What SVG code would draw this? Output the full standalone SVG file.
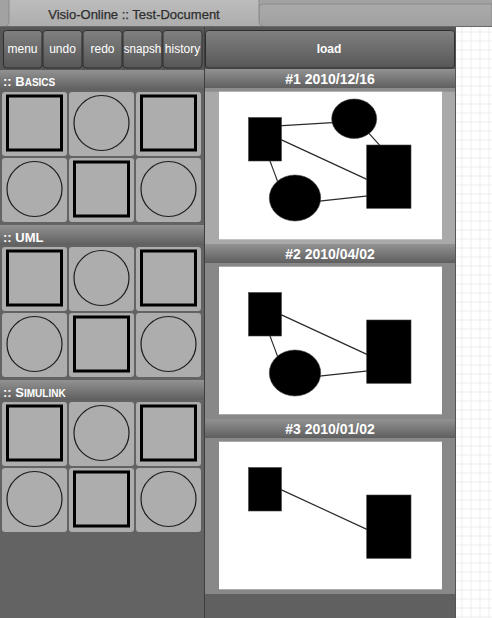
<svg xmlns="http://www.w3.org/2000/svg" width="492" height="618" viewBox="0 0 492 618">
<defs>
<style>
text{font-family:"Liberation Sans",Arial,sans-serif;}
.btn{fill:url(#btnG);stroke:#2e2e2e;stroke-width:1;}
.btxt{fill:#fff;font-size:12px;text-anchor:middle;}
.hdr{fill:url(#hdrG);}
.htxt{fill:#fff;font-size:13px;font-weight:bold;}
.stxt{fill:#fff;font-size:14px;font-weight:bold;text-anchor:middle;}
.tile{fill:#adadad;}
.sq{fill:none;stroke:#000;stroke-width:3;}
.ci{fill:none;stroke:#1e1e1e;stroke-width:1.2;}
.shape{fill:#000;stroke:#444;stroke-width:0.6;}
.conn{stroke:#2a2a2a;stroke-width:1.2;fill:none;}
.white{fill:#fff;}
</style>
<linearGradient id="btnG" x1="0" y1="0" x2="0" y2="1">
<stop offset="0" stop-color="#808080"/><stop offset="1" stop-color="#575757"/>
</linearGradient>
<linearGradient id="hdrG" x1="0" y1="0" x2="0" y2="1">
<stop offset="0" stop-color="#929292"/><stop offset="1" stop-color="#5f5f5f"/>
</linearGradient>
<linearGradient id="tabA" x1="0" y1="0" x2="0" y2="1">
<stop offset="0" stop-color="#bcbcbc"/><stop offset="1" stop-color="#adadad"/>
</linearGradient>
<linearGradient id="tabB" x1="0" y1="0" x2="0" y2="1">
<stop offset="0" stop-color="#aaaaaa"/><stop offset="1" stop-color="#a0a0a0"/>
</linearGradient>
<pattern id="grid" x="461.5" y="4.5" width="9" height="9" patternUnits="userSpaceOnUse">
<path d="M0 0.5H9M0.5 0V9" stroke="#ececec" stroke-width="1" fill="none"/>
</pattern>
</defs>

<!-- tab bar -->
<g id="tabbar">
<rect x="0" y="0" width="492" height="27" fill="#a2a2a2"/>
<path d="M259 27V9Q259 4 264 4H492V27Z" fill="url(#tabB)" stroke="#8a8a8a" stroke-width="1"/>
<path d="M3 27Q9 27 9 21V0H259V21Q259 27 265 27Z" fill="url(#tabA)"/>
<path d="M3 26.5Q9 26.5 9 21V0M259 0V21Q259 26.5 265 26.5" fill="none" stroke="#8a8a8a" stroke-width="1"/>
<text x="134" y="18.5" font-size="13" fill="#2e2e2e" text-anchor="middle" stroke="#2e2e2e" stroke-width="0.25">Visio-Online :: Test-Document</text>
<line x1="0" y1="26.5" x2="492" y2="26.5" stroke="#6a6a6a"/>
</g>

<!-- backgrounds -->
<rect x="0" y="27" width="456" height="43" fill="#575757"/>
<rect x="0" y="70" width="204" height="548" fill="#636363"/>
<rect x="456" y="27" width="36" height="591" fill="#fff"/>
<rect x="456" y="27" width="36" height="591" fill="url(#grid)"/>

<!-- toolbar buttons -->
<g id="btn-menu"><rect class="btn" x="3.5" y="30.5" width="38.5" height="37.5" rx="3"/><text class="btxt" x="22.5" y="53">menu</text></g>
<g id="btn-undo"><rect class="btn" x="43" y="30.5" width="39" height="37.5" rx="3"/><text class="btxt" x="62.5" y="53">undo</text></g>
<g id="btn-redo"><rect class="btn" x="83" y="30.5" width="39" height="37.5" rx="3"/><text class="btxt" x="102.5" y="53">redo</text></g>
<g id="btn-snapsh"><rect class="btn" x="123" y="30.5" width="39" height="37.5" rx="3"/><text class="btxt" x="142.5" y="53" textLength="37.5" lengthAdjust="spacingAndGlyphs">snapsh</text></g>
<g id="btn-history"><rect class="btn" x="163" y="30.5" width="39" height="37.5" rx="3"/><text class="btxt" x="182.5" y="53">history</text></g>
<g id="btn-load"><rect class="btn" x="205.5" y="30.5" width="249" height="37.5" rx="3"/><text class="btxt" x="329" y="52.5" font-size="11.5" font-weight="bold">load</text></g>

<!-- left palette -->
<g id="hdr-basics"><rect class="hdr" x="0" y="70" width="204" height="20"/><text class="htxt" x="3" y="86">:: B<tspan font-size="10">ASICS</tspan></text></g>
<g id="basics-1"><rect class="tile" x="2" y="92" width="65" height="64" rx="3"/><rect class="sq" x="7.5" y="96" width="54" height="54"/></g>
<g id="basics-2"><rect class="tile" x="69" y="92" width="65" height="64" rx="3"/><circle class="ci" cx="101.5" cy="123" r="27.5"/></g>
<g id="basics-3"><rect class="tile" x="136" y="92" width="65" height="64" rx="3"/><rect class="sq" x="141.5" y="96" width="54" height="54"/></g>
<g id="basics-4"><rect class="tile" x="2" y="158" width="65" height="64" rx="3"/><circle class="ci" cx="34.5" cy="189" r="27.5"/></g>
<g id="basics-5"><rect class="tile" x="69" y="158" width="65" height="64" rx="3"/><rect class="sq" x="74.5" y="162" width="54" height="54"/></g>
<g id="basics-6"><rect class="tile" x="136" y="158" width="65" height="64" rx="3"/><circle class="ci" cx="168.5" cy="189" r="27.5"/></g>

<g id="hdr-uml"><rect class="hdr" x="0" y="225" width="204" height="20"/><text class="htxt" x="3" y="241.5">:: UML</text></g>
<g id="uml-1"><rect class="tile" x="2" y="247" width="65" height="64" rx="3"/><rect class="sq" x="7.5" y="251" width="54" height="54"/></g>
<g id="uml-2"><rect class="tile" x="69" y="247" width="65" height="64" rx="3"/><circle class="ci" cx="101.5" cy="278" r="27.5"/></g>
<g id="uml-3"><rect class="tile" x="136" y="247" width="65" height="64" rx="3"/><rect class="sq" x="141.5" y="251" width="54" height="54"/></g>
<g id="uml-4"><rect class="tile" x="2" y="313" width="65" height="64" rx="3"/><circle class="ci" cx="34.5" cy="344" r="27.5"/></g>
<g id="uml-5"><rect class="tile" x="69" y="313" width="65" height="64" rx="3"/><rect class="sq" x="74.5" y="317" width="54" height="54"/></g>
<g id="uml-6"><rect class="tile" x="136" y="313" width="65" height="64" rx="3"/><circle class="ci" cx="168.5" cy="344" r="27.5"/></g>

<g id="hdr-simulink"><rect class="hdr" x="0" y="380" width="204" height="20"/><text class="htxt" x="3" y="396.5">:: S<tspan font-size="10">IMULINK</tspan></text></g>
<g id="sim-1"><rect class="tile" x="2" y="402" width="65" height="64" rx="3"/><rect class="sq" x="7.5" y="406" width="54" height="54"/></g>
<g id="sim-2"><rect class="tile" x="69" y="402" width="65" height="64" rx="3"/><circle class="ci" cx="101.5" cy="433" r="27.5"/></g>
<g id="sim-3"><rect class="tile" x="136" y="402" width="65" height="64" rx="3"/><rect class="sq" x="141.5" y="406" width="54" height="54"/></g>
<g id="sim-4"><rect class="tile" x="2" y="468" width="65" height="64" rx="3"/><circle class="ci" cx="34.5" cy="499" r="27.5"/></g>
<g id="sim-5"><rect class="tile" x="69" y="468" width="65" height="64" rx="3"/><rect class="sq" x="74.5" y="472" width="54" height="54"/></g>
<g id="sim-6"><rect class="tile" x="136" y="468" width="65" height="64" rx="3"/><circle class="ci" cx="168.5" cy="499" r="27.5"/></g>

<!-- history panel -->
<rect x="205" y="69" width="250" height="525" fill="#888"/>
<rect x="205" y="594" width="250" height="24" fill="#606060"/>

<g id="snap-1">
<rect x="205" y="88" width="250" height="156" fill="#a9a9a9"/>
<rect x="205" y="88" width="250" height="3.7" fill="#8e8e8e"/>
<rect class="hdr" x="205" y="69" width="250" height="19"/>
<text class="stxt" x="330" y="83.5">#1 2010/12/16</text>
<rect class="white" x="219" y="91.7" width="223" height="147.6"/>
</g>
<g id="snap-1-connectors">
<line class="conn" x1="270" y1="126.4" x2="345" y2="121.9"/>
<line class="conn" x1="275" y1="136.9" x2="375" y2="183.1"/>
<line class="conn" x1="365" y1="128.8" x2="384" y2="150.2"/>
<line class="conn" x1="268" y1="155.6" x2="280" y2="187.9"/>
<line class="conn" x1="310" y1="202.2" x2="375" y2="195.1"/>
</g>
<g id="snap-1-nodes">
<rect class="shape" x="248.5" y="117.5" width="33" height="43.5"/>
<ellipse class="shape" cx="354.2" cy="118.7" rx="22.5" ry="19.7"/>
<rect class="shape" x="366.7" y="145" width="44.3" height="63.3"/>
<ellipse class="shape" cx="295" cy="198" rx="25.7" ry="23"/>
</g>

<g id="snap-2">
<rect class="hdr" x="205" y="244" width="250" height="19"/>
<text class="stxt" x="330" y="258.5">#2 2010/04/02</text>
<rect class="white" x="219" y="266.7" width="223" height="147.6"/>
</g>
<g id="snap-2-connectors">
<line class="conn" x1="275" y1="311.9" x2="375" y2="358.1"/>
<line class="conn" x1="268" y1="330.6" x2="280" y2="362.9"/>
<line class="conn" x1="310" y1="377.2" x2="375" y2="370.1"/>
</g>
<g id="snap-2-nodes">
<rect class="shape" x="248.5" y="292.5" width="33" height="43.5"/>
<rect class="shape" x="366.7" y="320" width="44.3" height="63.3"/>
<ellipse class="shape" cx="295" cy="373" rx="25.7" ry="23"/>
</g>

<g id="snap-3">
<rect class="hdr" x="205" y="419" width="250" height="19"/>
<text class="stxt" x="330" y="433.5">#3 2010/01/02</text>
<rect class="white" x="219" y="441.7" width="223" height="147.6"/>
</g>
<g id="snap-3-connectors">
<line class="conn" x1="275" y1="486.9" x2="375" y2="533.1"/>
</g>
<g id="snap-3-nodes">
<rect class="shape" x="248.5" y="467.5" width="33" height="43.5"/>
<rect class="shape" x="366.7" y="495" width="44.3" height="63.3"/>
</g>

<!-- separators -->
<line x1="204.5" y1="27" x2="204.5" y2="618" stroke="#3e3e3e"/>
<line x1="455.5" y1="27" x2="455.5" y2="618" stroke="#555"/>
</svg>
